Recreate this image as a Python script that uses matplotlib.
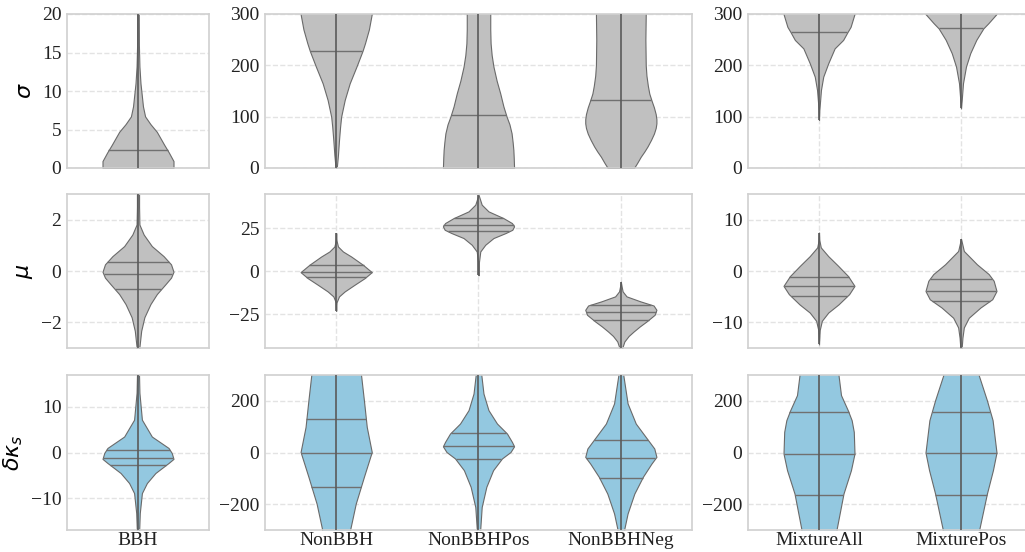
import numpy as np
import matplotlib
matplotlib.use("Agg")
import matplotlib.pyplot as plt

plt.rcParams['font.family'] = ['Liberation Serif', 'DejaVu Serif']
plt.rcParams['axes.unicode_minus'] = True

GRAY = '#c0c0c0'
BLUE = '#93c8e0'

# each violin: density profile (y, relative half width), quartile lines, min/max of the bar
# ---- sigma row ----
sig_bbh = dict(y=[0, 0.9, 2, 3, 4.7, 5.7, 6.7, 8, 9.3, 11, 13.2, 16, 21],
               w=[1, 1, 0.87, 0.74, 0.53, 0.35, 0.2, 0.14, 0.11, 0.07, 0.04, 0.025, 0.02],
               q=[2.3], lo=0, hi=21)
sig_non = dict(y=[0, 2.6, 25, 54.6, 80, 100, 132.5, 165, 197.5, 228, 243, 270, 300, 320],
               w=[0, 0.02, 0.05, 0.08, 0.11, 0.14, 0.24, 0.38, 0.57, 0.74, 0.81, 0.92, 1.0, 1.0],
               q=[228], lo=0, hi=320)
sig_nonpos = dict(y=[0, 20, 35, 50, 67.6, 85, 100, 120, 145.5, 170, 197.5, 220, 243, 270, 300, 320],
                  w=[1.0, 0.99, 0.98, 0.96, 0.93, 0.87, 0.79, 0.70, 0.61, 0.51, 0.42, 0.37, 0.34, 0.33, 0.33, 0.33],
                  q=[103], lo=0, hi=320)
sig_nonneg = dict(y=[0, 10, 22, 32, 42, 55, 67, 78, 87, 95, 105, 118, 132, 145, 160, 180, 200, 250, 300, 320],
                  w=[0.37, 0.46, 0.56, 0.66, 0.75, 0.85, 0.93, 0.98, 1.0, 1.0, 0.98, 0.93, 0.86, 0.8, 0.76,
                     0.72, 0.70, 0.69, 0.70, 0.70],
                  q=[133], lo=0, hi=320)
sig_mixall = dict(y=[93.5, 113, 152, 178, 204, 233, 249.5, 264.5, 275, 300, 320],
                  w=[0, 0.01, 0.055, 0.12, 0.26, 0.44, 0.68, 0.8, 0.89, 1.0, 1.0],
                  q=[264.5], lo=93.5, hi=320)
sig_mixpos = dict(y=[116, 132.5, 165, 197.5, 223.6, 249.5, 272, 282, 300, 320],
                  w=[0, 0.02, 0.056, 0.14, 0.26, 0.43, 0.63, 0.77, 1.0, 1.0],
                  q=[272], lo=116, hi=320)

# ---- mu row ----
mu_bbh = dict(y=[-3.2, -2.96, -2.33, -1.8, -1.29, -0.9, -0.52, -0.26, -0.03, 0.26, 0.58, 0.97, 1.42, 1.81, 2.5, 3.2],
              w=[0.03, 0.04, 0.09, 0.18, 0.35, 0.53, 0.77, 0.93, 1.0, 0.93, 0.72, 0.39, 0.16, 0.04, 0.03, 0.03],
              q=[0.36, -0.13, -0.71], lo=-3.2, hi=3.2)
mu_non = dict(y=[-22.9, -18, -14.5, -11.6, -7.7, -3.9, -0.4, 3.9, 8.7, 11.6, 14.5, 18, 22.3],
              w=[0, 0.01, 0.08, 0.24, 0.52, 0.8, 1.0, 0.75, 0.42, 0.19, 0.05, 0.01, 0],
              q=[3.5, -0.5, -3.3], lo=-22.9, hi=22.3)
mu_nonpos = dict(y=[-2.3, 5, 11.6, 15.5, 19.4, 22.3, 24.2, 26.2, 28.1, 31, 34.9, 38.8, 44.6],
                 w=[0, 0.01, 0.05, 0.19, 0.42, 0.76, 0.95, 1.0, 0.94, 0.7, 0.28, 0.09, 0],
                 q=[31, 26.7, 23.3], lo=-2.3, hi=44.6)
mu_nonneg = dict(y=[-48, -44.4, -40.7, -37.5, -34.9, -32, -29.1, -25.2, -22.3, -19.8, -17.4, -14.5, -11.6, -8.5, -6],
                 w=[0.02, 0.04, 0.1, 0.22, 0.36, 0.53, 0.72, 0.95, 1.0, 0.92, 0.55, 0.16, 0.05, 0.02, 0],
                 q=[-19.4, -23.3, -28.1], lo=-48, hi=-6)
mu_mixall = dict(y=[-14.3, -11.5, -9.7, -8.1, -6.5, -4.5, -2.9, -1.0, 1.0, 2.9, 4.6, 6, 7.5],
                 w=[0, 0.02, 0.08, 0.26, 0.55, 0.85, 1.0, 0.82, 0.54, 0.26, 0.05, 0.01, 0],
                 q=[-1.2, -3.0, -4.9], lo=-14.3, hi=7.5)
mu_mixpos = dict(y=[-16, -14.9, -13, -11.0, -9.1, -7.1, -5.5, -3.9, -1.9, -0.6, 1.3, 3.9, 6.3],
                 w=[0.01, 0.02, 0.04, 0.08, 0.22, 0.55, 0.88, 1.0, 0.92, 0.78, 0.45, 0.08, 0],
                 q=[-1.5, -3.8, -5.8], lo=-16, hi=6.3)

# ---- delta kappa_s row ----
dk_bbh = dict(y=[-20, -13.3, -8.9, -6.7, -4.5, -2.3, -1.4, -0.1, 1.0, 3.5, 7.2, 13.1, 20],
              w=[0.02, 0.05, 0.11, 0.25, 0.49, 0.86, 1.0, 0.95, 0.86, 0.39, 0.11, 0.04, 0.02],
              q=[0.6, -1.1, -2.7], lo=-20, hi=20)
dk_non = dict(y=[-320, -294, -198, -94, 2, 99, 202, 299, 320],
              w=[0.37, 0.4, 0.55, 0.78, 1.0, 0.86, 0.78, 0.70, 0.68],
              q=[128, 0, -133], lo=-320, hi=320)
dk_nonpos = dict(y=[-320, -294, -211, -133, -68.5, -23, 2, 24, 41, 73.5, 112, 164, 228, 299, 320],
                 w=[0.04, 0.05, 0.09, 0.22, 0.41, 0.66, 0.9, 1.0, 0.94, 0.8, 0.52, 0.28, 0.14, 0.08, 0.07],
                 q=[77, 24, -26], lo=-320, hi=320)
dk_nonneg = dict(y=[-320, -294, -236, -159, -94, -43, -17, 15.5, 60, 112, 190, 299, 320],
                 w=[0.08, 0.1, 0.19, 0.38, 0.62, 0.86, 1.0, 0.94, 0.7, 0.42, 0.19, 0.07, 0.06],
                 q=[48, -23, -97], lo=-320, hi=320)
dk_mixall = dict(y=[-320, -294, -159, -68.5, -4, 80, 125, 164, 222, 299, 320],
                 w=[0.48, 0.5, 0.69, 0.9, 1.0, 0.98, 0.92, 0.81, 0.62, 0.55, 0.53],
                 q=[155, -4, -163], lo=-320, hi=320)
dk_mixpos = dict(y=[-320, -294, -159, -68, 0, 125, 202, 299, 320],
                 w=[0.5, 0.52, 0.73, 0.9, 1.0, 0.89, 0.73, 0.5, 0.48],
                 q=[157, 0, -163], lo=-320, hi=320)

groups = [['BBH'], ['NonBBH', 'NonBBHPos', 'NonBBHNeg'], ['MixtureAll', 'MixturePos']]
rows = [
    [[sig_bbh], [sig_non, sig_nonpos, sig_nonneg], [sig_mixall, sig_mixpos]],
    [[mu_bbh], [mu_non, mu_nonpos, mu_nonneg], [mu_mixall, mu_mixpos]],
    [[dk_bbh], [dk_non, dk_nonpos, dk_nonneg], [dk_mixall, dk_mixpos]],
]
row_labels = [r'$\sigma$', r'$\mu$', r'$\delta\kappa_s$']
row_colors = [GRAY, GRAY, BLUE]
ylims = [[(0, 20), (0, 300), (0, 300)],
         [(-3, 3), (-44.5, 45), (-15, 15)],
         [(-17, 17), (-300, 300), (-300, 300)]]
yticks = [[[0, 5, 10, 15, 20], [0, 100, 200, 300], [0, 100, 200, 300]],
          [[-2, 0, 2], [-25, 0, 25], [-10, 0, 10]],
          [[-10, 0, 10], [-200, 0, 200], [-200, 0, 200]]]

W, H = 1025, 552
fig = plt.figure(figsize=(W / 100, H / 100), dpi=100)

col_px = [(67, 142), (265, 427), (748, 284)]
row_px = [(14, 154), (194, 154), (375, 155)]

for r in range(3):
    for c in range(3):
        x0, cw = col_px[c]
        y0, rh = row_px[r]
        ax = fig.add_axes([x0 / W, (H - y0 - rh) / H, cw / W, rh / H])
        vs = rows[r][c]
        pos = np.arange(len(vs))
        stats = [dict(coords=np.array(v['y']), vals=np.array(v['w']),
                      mean=0, median=0, min=v['lo'], max=v['hi']) for v in vs]
        parts = ax.violin(stats, positions=pos, widths=0.5, showmeans=False,
                          showextrema=False, showmedians=False)
        for b in parts['bodies']:
            b.set_facecolor(row_colors[r])
            b.set_edgecolor('#6a6a6a')
            b.set_linewidth(0.8)
            b.set_alpha(1)
        for p, v in zip(pos, vs):
            w = np.array(v['w'])
            hw = 0.25 * np.interp(v['q'], v['y'], w) / w.max()
            ax.hlines(v['q'], p - hw, p + hw, color='#707070', lw=1.0, zorder=3)
            ax.vlines(p, v['lo'], v['hi'], color='#5a5a5a', lw=1.2, zorder=3)

        ax.set_xlim(-0.5, len(vs) - 0.5)
        ax.set_ylim(*ylims[r][c])
        ax.set_yticks(yticks[r][c])
        ax.set_xticks(pos)
        if r == 2:
            ax.set_xticklabels(groups[c])
        else:
            ax.set_xticklabels([])
        ax.tick_params(length=0, labelsize=14, pad=4, colors='#222222')
        ax.tick_params(axis='x', pad=1.5)
        ax.set_axisbelow(True)
        ax.grid(True, ls='--', color='#e3e3e3', lw=1)
        for s in ax.spines.values():
            s.set_color('#d0d0d0')
            s.set_linewidth(1.2)
        if c == 0:
            ax.set_ylabel(row_labels[r], fontsize=16, labelpad=4)

fig.savefig('out.png', dpi=100)
